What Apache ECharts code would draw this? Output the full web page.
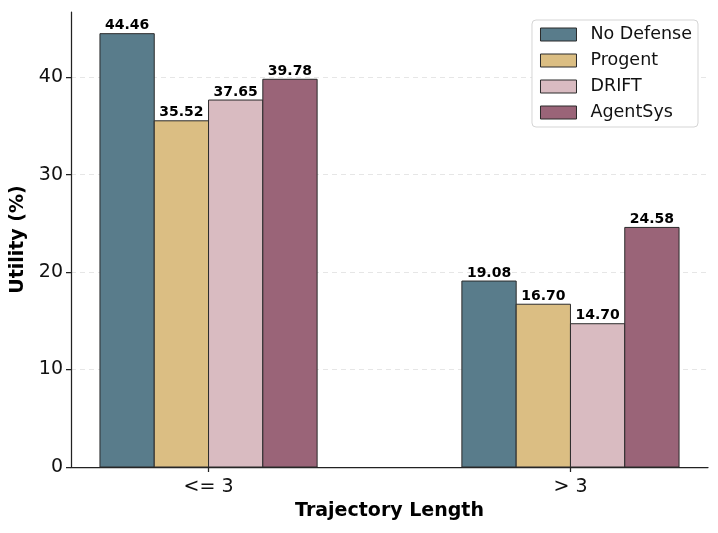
<!DOCTYPE html>
<html><head><meta charset="utf-8">
<script src="https://cdn.jsdelivr.net/npm/echarts@6/dist/echarts.min.js"></script>
<style>html,body{margin:0;padding:0;background:#fff}#c{width:718px;height:533px}</style>
</head><body><div id="c"></div>
<script>
const categories = ["<= 3", "> 3"];
const seriesNames = ["No Defense", "Progent", "DRIFT", "AgentSys"];
const noDefense = [44.46, 19.08];
const progent = [35.52, 16.70];
const drift = [37.65, 14.70];
const agentSys = [39.78, 24.58];
const yTicks = [0, 10, 20, 30, 40];

const values = [noDefense, progent, drift, agentSys];
const colors = ["#597c8b", "#dbbe83", "#d9bbc1", "#9a6478"];
const barW = 0.15;
const font = "DejaVu Sans";

const chart = echarts.init(document.getElementById('c'), null, {renderer: 'canvas'});

const series = seriesNames.map((name, si) => ({
  name: name,
  type: 'custom',
  z: 5,
  itemStyle: {color: colors[si], borderColor: '#2b2b2b', borderWidth: 1},
  data: categories.map((c, ci) => [ci + (si - 1.5) * barW, values[si][ci]]),
  renderItem: function (params, api) {
    const x = api.value(0), y = api.value(1);
    const p1 = api.coord([x - barW / 2, y]);
    const p2 = api.coord([x + barW / 2, 0]);
    return {
      type: 'group',
      children: [
        {type: 'rect', shape: {x: p1[0], y: p1[1], width: p2[0] - p1[0], height: p2[1] - p1[1]},
         style: {fill: colors[si], stroke: '#2b2b2b', lineWidth: 1, opacity: 1}},
        {type: 'text', x: (p1[0] + p2[0]) / 2, y: p1[1] - 1,
         style: {text: y.toFixed(2), font: 'bold 14px "' + font + '"', fill: '#000', align: 'center', verticalAlign: 'bottom'}}
      ]
    };
  }
}));

const ymax = Math.max(...values.flat()) * 1.05;

chart.setOption({
  animation: false,
  backgroundColor: '#fff',
  textStyle: {fontFamily: font},
  grid: {left: 71, right: 10, top: 12, bottom: 66, containLabel: false},
  legend: {
    data: seriesNames.map((n, i) => ({name: n, icon: 'rect', itemStyle: {color: colors[i], borderColor: '#2b2b2b', borderWidth: 1}})),
    orient: 'vertical', right: 20, top: 20,
    itemWidth: 36, itemHeight: 13, itemGap: 5,
    padding: [4, 6, 4, 8],
    borderColor: '#d5d5d5', borderWidth: 1, borderRadius: 4, backgroundColor: '#fff',
    textStyle: {fontFamily: font, fontSize: 17.5, color: '#111', padding: [0, 0, 0, 9], lineHeight: 21}
  },
  xAxis: {
    type: 'value', min: -0.38, max: 1.38,
    name: 'Trajectory Length', nameLocation: 'middle', nameGap: 35,
    nameTextStyle: {fontFamily: font, fontSize: 19, fontWeight: 'bold', color: '#000'},
    axisLine: {show: true, onZero: false, lineStyle: {color: '#222', width: 1.25}},
    axisTick: {show: true, customValues: [0, 1], length: 5, lineStyle: {color: '#222', width: 1.25}},
    axisLabel: {customValues: [0, 1], formatter: v => categories[Math.round(v)], fontSize: 19, color: '#111', margin: 11},
    splitLine: {show: false}
  },
  yAxis: {
    type: 'value', min: 0, max: ymax, interval: 10,
    name: 'Utility (%)', nameLocation: 'middle', nameGap: 42,
    nameTextStyle: {fontFamily: font, fontSize: 19, fontWeight: 'bold', color: '#000'},
    axisLine: {show: true, onZero: false, lineStyle: {color: '#222', width: 1.25}},
    axisTick: {show: true, length: 5, lineStyle: {color: '#222', width: 1.25}},
    axisLabel: {fontSize: 19, color: '#111', margin: 8, showMaxLabel: false},
    splitLine: {show: true, showMinLine: false, showMaxLine: false, lineStyle: {color: '#e6e6e6', type: [5, 4], width: 1}}
  },
  series: series
});
</script></body></html>
